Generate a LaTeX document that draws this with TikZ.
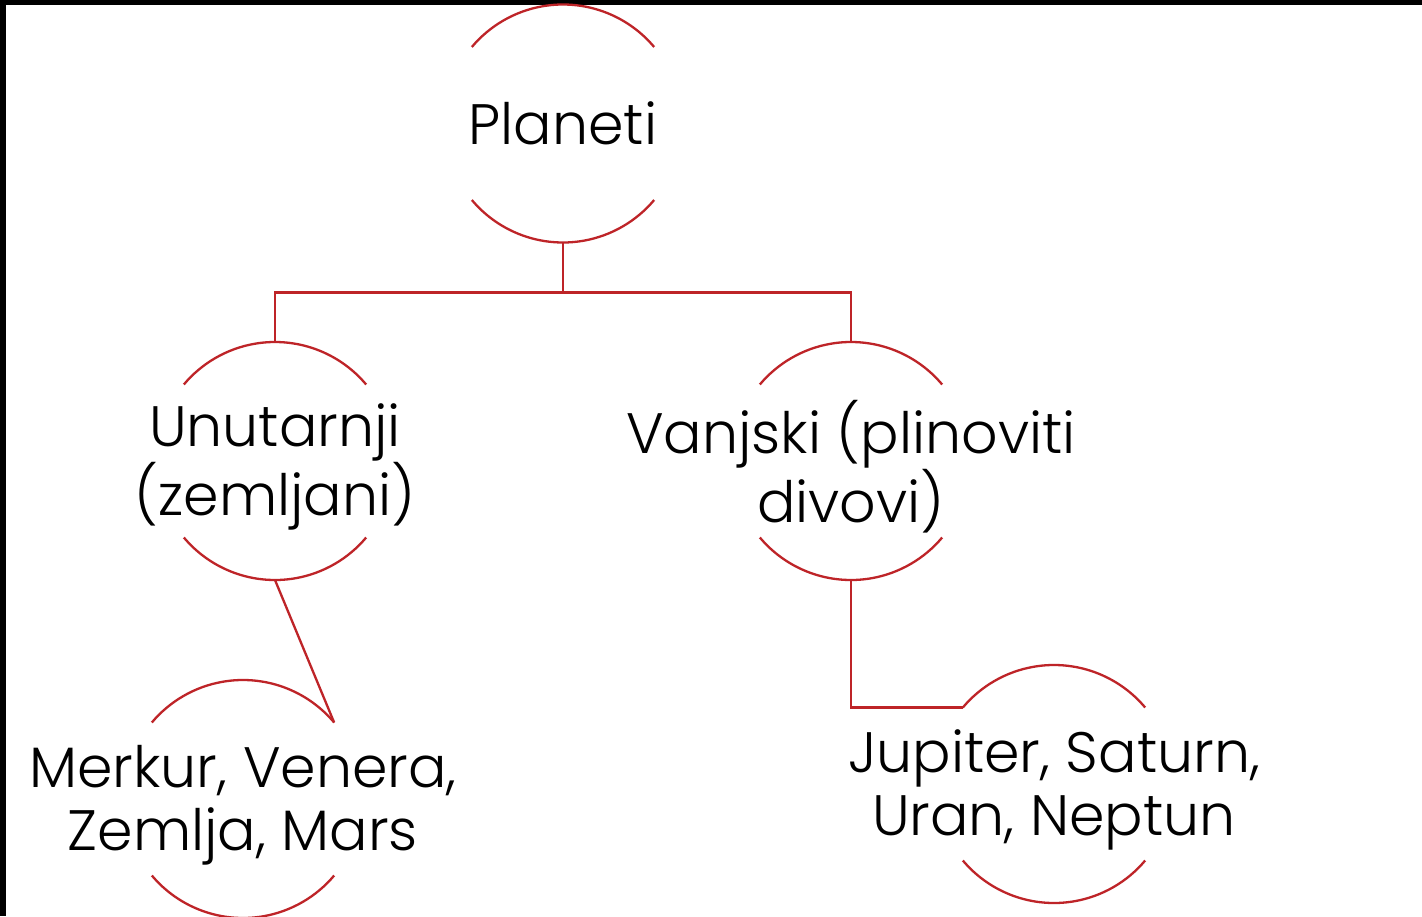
\documentclass[tikz,border=0pt]{standalone}
\usepackage{fontspec}
\setmainfont{Poppins Light}
\definecolor{arcred}{RGB}{190,36,40}
\begin{document}
\begin{tikzpicture}[x=1pt,y=-1pt,
  ring/.style={circle,minimum size=238pt,inner sep=0pt,outer sep=0pt},
  arcline/.style={draw=arcred,line width=2.3pt},
  conn/.style={draw=arcred,line width=2.3pt},
  txt/.style={align=center,font=\fontsize{57}{63}\selectfont,inner sep=0pt,text=black},
  txttwo/.style={txt,yshift=-6pt}]
\fill[black] (0,0) rectangle (1422,916);
\fill[white] (6,5) rectangle (1422,916);
\useasboundingbox (0,0) rectangle (1422,916);
\node[ring] (p) at (563,123.5) {};
\node[ring] (u) at (275,461) {};
\node[ring] (v) at (851,461) {};
\node[ring] (m) at (243,799) {};
\node[ring] (j) at (1054,784) {};
\foreach \n in {p,u,v,m,j}{
  \draw[arcline] (\n.40) arc[start angle=40,end angle=140,radius=119pt];
  \draw[arcline] (\n.220) arc[start angle=220,end angle=320,radius=119pt];
}
\node[txt] (pt) at (p) {Planeti};
\node[txttwo] (ut) at (u) {Unutarnji\\(zemljani)};
\node[txttwo] (vt) at (v) {Vanjski (plinoviti\\divovi)};
\node[txttwo] (mt) at (m) {Merkur, Venera,\\Zemlja, Mars};
\node[txttwo] (jt) at (j) {Jupiter, Saturn,\\Uran, Neptun};
\draw[conn] (p.south) -- ++(0,50) coordinate (hub);
\draw[conn] (hub) -| (u.north);
\draw[conn] (hub) -| (v.north);
\draw[conn] (u.south) -- (m.40);
\draw[conn] (v.south) |- (j.140);
\end{tikzpicture}
\end{document}
